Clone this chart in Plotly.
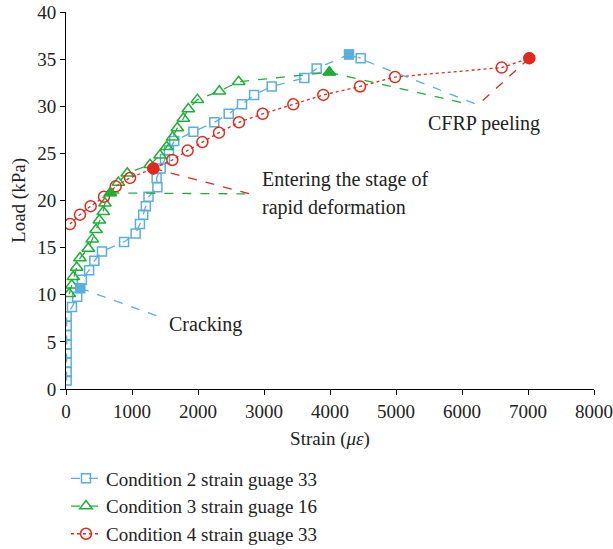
import plotly.graph_objects as go

# ---------------- data ----------------
c2_strain = [10, 10, 10, 10, 10, 10, 10, 10, 90, 170, 215, 240, 350, 430, 545, 880, 1055, 1120, 1170,
             1210, 1250, 1385, 1373, 1435, 1500, 1560, 1640, 1930, 2247, 2465, 2667, 2850, 3117,
             3611, 3798, 4288, 4465]
c2_load = [0.9, 1.8, 2.8, 3.8, 4.7, 5.7, 6.7, 7.7, 8.7, 9.8, 10.7, 11.6, 12.6, 13.6, 14.6, 15.6, 16.5,
           17.5, 18.5, 19.4, 20.4, 21.4, 22.4, 23.4, 24.4, 25.3, 26.3, 27.3, 28.3, 29.2, 30.2, 31.2,
           32.1, 33.0, 34.0, 35.5, 35.1]
c2_key = [10, 35]  # filled markers (cracking, CFRP peeling)

c3_strain = [50, 86, 111, 162, 212, 338, 398, 455, 505, 565, 590, 672, 793, 929, 1273, 1424, 1525,
             1616, 1687, 1778, 1853, 1990, 2323, 2616, 3990]
c3_load = [10.1, 11.0, 11.9, 12.9, 13.9, 14.9, 15.9, 16.9, 17.9, 18.8, 19.7, 20.8, 21.9, 22.9, 23.8,
           24.8, 25.7, 26.7, 27.7, 28.7, 29.7, 30.7, 31.6, 32.6, 33.6]
c3_key = [11, 24]

c4_strain = [60, 212, 374, 576, 753, 970, 1323, 1611, 1843, 2066, 2318, 2621, 2980, 3444, 3899, 4455,
             4985, 6601, 7020]
c4_load = [17.5, 18.5, 19.4, 20.4, 21.5, 22.4, 23.4, 24.3, 25.3, 26.2, 27.2, 28.3, 29.2, 30.2, 31.2,
           32.1, 33.1, 34.1, 35.1]
c4_key = [6, 18]

names = ["Condition 2 strain guage 33", "Condition 3 strain guage 16", "Condition 4 strain guage 33"]

# annotation label anchors (strain, load)
crack_anchor = (1399, 7.7)
rapid_anchor = (2788, 20.7)
cfrp_anchor = {"c2": (6222, 30.2), "c3": (6121, 30.2), "c4": (6298, 30.5)}

blue = "#5AAEE0"
green = "#1FAF38"
red = "#E2291C"
FONT = "Liberation Serif, Times New Roman, serif"
TXT = "#222222"

fig = go.Figure()

series = [
    (c2_strain, c2_load, c2_key, blue, "dash", "square", 9, names[0]),
    (c3_strain, c3_load, c3_key, green, "dash", "triangle-up", 11, names[1]),
    (c4_strain, c4_load, c4_key, red, "dot", "circle", 11, names[2]),
]

for xs, ys, key, col, dash, sym, size, nm in series:
    fig.add_trace(go.Scatter(
        x=xs, y=ys, mode="lines+markers", name=nm,
        line=dict(color=col, width=1.3, dash=dash),
        marker=dict(symbol=sym + "-open", size=size, color=col, line=dict(width=1.5, color=col)),
    ))

# leader lines
def leader(p0, p1, col, dash="dash"):
    fig.add_trace(go.Scatter(x=[p0[0], p1[0]], y=[p0[1], p1[1]], mode="lines", showlegend=False,
                             hoverinfo="skip", line=dict(color=col, width=1.3, dash=dash)))

leader((c2_strain[c2_key[0]], c2_load[c2_key[0]]), crack_anchor, blue)
leader((c4_strain[c4_key[0]], c4_load[c4_key[0]]), rapid_anchor, red)
leader((c3_strain[c3_key[0]], c3_load[c3_key[0]]), rapid_anchor, green)
leader((c2_strain[c2_key[1]], c2_load[c2_key[1]]), cfrp_anchor["c2"], blue)
leader((c3_strain[c3_key[1]], c3_load[c3_key[1]]), cfrp_anchor["c3"], green)
leader((c4_strain[c4_key[1]], c4_load[c4_key[1]]), cfrp_anchor["c4"], red)

# filled key markers
for xs, ys, key, col, dash, sym, size, nm in series:
    fig.add_trace(go.Scatter(
        x=[xs[i] for i in key], y=[ys[i] for i in key], mode="markers", showlegend=False,
        marker=dict(symbol=sym, size=size, color=col, line=dict(width=1, color=col)),
    ))

ann_font = dict(family=FONT, size=20, color=TXT)
fig.add_annotation(x=1530, y=6.8, text="Cracking", showarrow=False, xanchor="left", font=ann_font)
fig.add_annotation(x=2940, y=22.2, text="Entering the stage of", showarrow=False, xanchor="left", font=ann_font)
fig.add_annotation(x=2940, y=19.3, text="rapid deformation", showarrow=False, xanchor="left", font=ann_font)
fig.add_annotation(x=5455, y=28.2, text="CFRP peeling", showarrow=False, xanchor="left", font=ann_font)

fig.update_layout(
    width=613, height=549,
    margin=dict(l=66, r=19, t=12, b=160, autoexpand=False),
    plot_bgcolor="white", paper_bgcolor="white",
    font=dict(family=FONT, size=19, color=TXT),
    showlegend=True,
    legend=dict(x=0.0, y=-0.187, xanchor="left", yanchor="top", bgcolor="rgba(0,0,0,0)",
                font=dict(family=FONT, size=19, color=TXT), tracegroupgap=0),
    xaxis=dict(range=[0, 8000], dtick=1000, tick0=0, showgrid=False, zeroline=False,
               showline=True, linecolor="black", linewidth=1, ticks="outside", ticklen=5,
               tickcolor="black", tickfont=dict(family=FONT, size=19, color=TXT),
               title=dict(text="Strain (<i>με</i>)", standoff=10, font=dict(family=FONT, size=19, color=TXT))),
    yaxis=dict(range=[0, 40], dtick=5, tick0=0, showgrid=False, zeroline=False,
               showline=True, linecolor="black", linewidth=1, ticks="outside", ticklen=5,
               tickcolor="black", tickfont=dict(family=FONT, size=19, color=TXT),
               title=dict(text="Load (kPa)", standoff=6, font=dict(family=FONT, size=19, color=TXT))),
)

fig.write_html("out.html")
